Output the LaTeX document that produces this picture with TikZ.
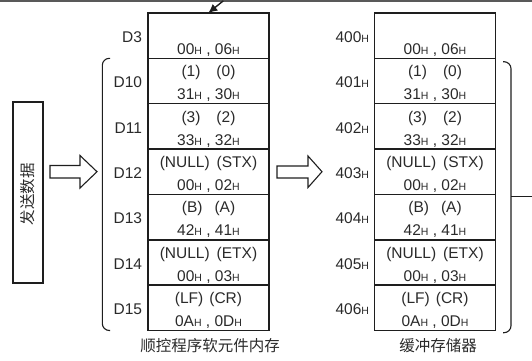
\documentclass[tikz,border=0pt]{standalone}
\usepackage{fontspec}
\setmainfont{Liberation Sans}
\newfontfamily\cjk{Noto Sans CJK SC}
\usetikzlibrary{arrows.meta}
\definecolor{ink}{HTML}{1E1E1E}
\definecolor{txtc}{HTML}{2A2A2A}
\newcommand\hx{{\fontsize{10.5bp}{10.5bp}\selectfont H}}
\tikzset{
 cell/.style={draw=ink, line width=1.5bp, minimum width=121bp, minimum height=45.36bp, inner sep=0pt, outer sep=0pt},
 txt/.style={text=txtc, font=\fontsize{15.5bp}{18bp}\selectfont, inner sep=0pt, outer sep=0pt},
 cjktxt/.style={text=txtc, font=\cjk\fontsize{15.5bp}{18bp}\selectfont, inner sep=0pt},
 thinline/.style={draw=ink, line width=1.1bp},
}
\newcommand\memrow[7]{%
 \pgfmathsetmacro\ry{13+#3*45.36+22.68}
 \node[cell] (#1) at (#2,\ry) {};
 \node[txt,anchor=base] (#1t) at ([yshift=-18.5bp]#1.north) {#6};
 \node[txt,anchor=base] (#1b) at ([yshift=-41.4bp]#1.north) {#7};
 \node[txt,anchor=east] (#1l) at (#4,\ry+1.5) {#5};
}
\begin{document}
\begin{tikzpicture}[x=1bp,y=-1bp]
\useasboundingbox (0,0) rectangle (532,360);
% top rule
\coordinate (tl) at (0,0.8);
\coordinate (tr) at (532,0.8);
\draw[line width=1.8bp, draw=gray!70!black] (tl) -- (tr);
% left memory
\memrow{L0}{208.5}{0}{142}{D3}{}{00\hx{} , 06\hx}
\memrow{L1}{208.5}{1}{142}{D10}{(1)\hspace{16bp}(0)}{31\hx{} , 30\hx}
\memrow{L2}{208.5}{2}{142}{D11}{(3)\hspace{16bp}(2)}{33\hx{} , 32\hx}
\memrow{L3}{208.5}{3}{142}{D12}{(NULL)\hspace{7bp}(STX)}{00\hx{} , 02\hx}
\memrow{L4}{208.5}{4}{142}{D13}{(B)\hspace{12bp}(A)}{42\hx{} , 41\hx}
\memrow{L5}{208.5}{5}{142}{D14}{(NULL)\hspace{7bp}(ETX)}{00\hx{} , 03\hx}
\memrow{L6}{208.5}{6}{142}{D15}{(LF)\hspace{6bp}(CR)}{0A\hx{} , 0D\hx}
% right buffer
\memrow{R0}{435}{0}{369}{400\hx}{}{00\hx{} , 06\hx}
\memrow{R1}{435}{1}{369}{401\hx}{(1)\hspace{16bp}(0)}{31\hx{} , 30\hx}
\memrow{R2}{435}{2}{369}{402\hx}{(3)\hspace{16bp}(2)}{33\hx{} , 32\hx}
\memrow{R3}{435}{3}{369}{403\hx}{(NULL)\hspace{7bp}(STX)}{00\hx{} , 02\hx}
\memrow{R4}{435}{4}{369}{404\hx}{(B)\hspace{12bp}(A)}{42\hx{} , 41\hx}
\memrow{R5}{435}{5}{369}{405\hx}{(NULL)\hspace{7bp}(ETX)}{00\hx{} , 03\hx}
\memrow{R6}{435}{6}{369}{406\hx}{(LF)\hspace{6bp}(CR)}{0A\hx{} , 0D\hx}
% top arrow
\coordinate (asrc) at (223.3,0.8);
\coordinate (atip) at (208.3,13);
\draw[draw=ink, line width=1.4bp, -{Latex[length=9bp,width=8.5bp]}] (asrc) -- (atip);
% send data box
\node[draw=ink, line width=1.1bp, minimum width=30bp, minimum height=181bp, inner sep=0pt] (src) at (28,192.5) {};
\node[cjktxt, rotate=90] (srct) at (28,194) {发送数据};
% block arrows
\draw[thinline] (50,165.5) -- (80,165.5) -- (80,155.5) -- (97,171.7) -- (80,188) -- (80,178) -- (50,178) -- cycle;
\draw[thinline] (277,166) -- (308,166) -- (308,156) -- (322,171.7) -- (308,187.5) -- (308,178) -- (277,178) -- cycle;
% brackets
\draw[thinline, rounded corners=7bp] (110,58.3) -- (102.3,58.3) -- (102.3,330.5) -- (110,330.5);
\draw[thinline, rounded corners=7bp] (503,61.7) -- (511,61.7) -- (511,332.7) -- (503,332.7);
\coordinate (rbm) at (511,196.7);
\coordinate (rbe) at (532,196.7);
\draw[thinline] (rbm) -- (rbe);
% captions
\node[cjktxt] (lcap) at (210,346) {顺控程序软元件内存};
\node[cjktxt] (rcap) at (438,346) {缓冲存储器};
\end{tikzpicture}
\end{document}
